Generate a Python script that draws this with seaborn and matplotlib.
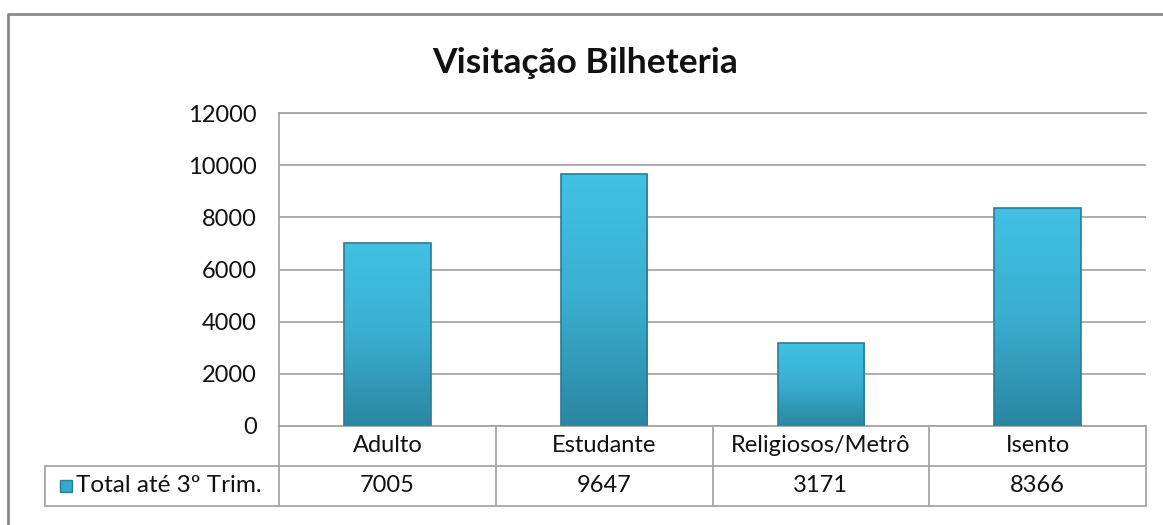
import matplotlib.pyplot as plt
import matplotlib.transforms as mtransforms
from matplotlib.colors import LinearSegmentedColormap
from matplotlib.lines import Line2D
import numpy as np
import pandas as pd
import seaborn as sns

# dados
categorias = ["Adulto", "Estudante", "Religiosos/Metrô", "Isento"]
totais = [7005, 9647, 3171, 8366]
serie = "Total até 3º Trim."
titulo = "Visitação Bilheteria"
y_ticks = [0, 2000, 4000, 6000, 8000, 10000, 12000]

sns.set_style("white")
plt.rcParams['font.family'] = ['Lato', 'DejaVu Sans']

df = pd.DataFrame({"categoria": categorias, "total": totais})

W, H = 1163, 525
fig = plt.figure(figsize=(W / 100, H / 100), dpi=100)
ax = fig.add_axes([279 / W, 99 / H, 867 / W, 313 / H])

sns.barplot(data=df, x="categoria", y="total", color="#38b4d8", width=0.4,
            saturation=1, edgecolor="#2a7d96", linewidth=1.2, ax=ax)

# gradiente vertical dentro das barras
cmap = LinearSegmentedColormap.from_list("barra", ["#2a86a0", "#3aaed0", "#41c1e4"])
grad = np.linspace(0, 1, 256).reshape(-1, 1)
for p in ax.patches:
    x0, y0, w, h = p.get_x(), p.get_y(), p.get_width(), p.get_height()
    im = ax.imshow(grad, cmap=cmap, extent=[x0, x0 + w, y0, y0 + h],
                   aspect="auto", origin="lower", zorder=2)
    im.set_clip_path(p)
    p.set_facecolor("none")
    p.set_zorder(3)

ax.set_xlim(-0.5, 3.5)
ax.set_ylim(0, 12000)
ax.set_yticks(y_ticks)
ax.set_xticks([])
ax.set_xlabel("")
ax.set_ylabel("")
ax.yaxis.grid(True, color="#a6a6a6", linewidth=1.3)
ax.set_axisbelow(True)
ax.tick_params(axis="y", length=0, pad=16, labelsize=17, labelcolor="#111111")
for side in ["left", "bottom", "top"]:
    ax.spines[side].set_color("#a6a6a6")
    ax.spines[side].set_linewidth(1.3)
ax.spines["right"].set_visible(False)

# tabela de dados abaixo do eixo
trans = mtransforms.blended_transform_factory(ax.transData, ax.transAxes)
r = 40 / 313
x_leg = (45 - 279) / 867 * 4 - 0.5
line_kw = dict(color="#a6a6a6", linewidth=1.3, transform=trans, clip_on=False)
for y in [-r, -2 * r]:
    ax.plot([x_leg, 3.5], [y, y], **line_kw)
for x in np.arange(len(categorias) + 1) - 0.5:
    ax.plot([x, x], [0, -2 * r], **line_kw)
ax.plot([x_leg, x_leg], [-r, -2 * r], **line_kw)

for i, (cat, val) in enumerate(zip(categorias, totais)):
    ax.text(i, -r / 2, cat, ha="center", va="center", fontsize=17,
            color="#111111", transform=trans)
    ax.text(i, -1.5 * r, str(val), ha="center", va="center", fontsize=17,
            color="#111111", transform=trans)

x_mark = (66 - 279) / 867 * 4 - 0.5
x_txt = (76 - 279) / 867 * 4 - 0.5
ax.plot([x_mark], [-1.5 * r], marker="s", markersize=8, color="#35a9cb",
        markeredgecolor="#2a7d96", transform=trans, clip_on=False)
ax.text(x_txt, -1.5 * r, serie, ha="left", va="center", fontsize=17.5,
        color="#111111", transform=trans)

fig.text(0.503, 1 - 63 / H, titulo, ha="center", va="center", fontsize=25.5,
         fontweight="bold", color="#111111")

# moldura externa do gráfico
fig.add_artist(Line2D([8 / W, 8 / W, 1], [0, 1 - 14 / H, 1 - 14 / H],
                      color="#8a8a8a", linewidth=2, transform=fig.transFigure))

fig.savefig("out.png", dpi=100)
